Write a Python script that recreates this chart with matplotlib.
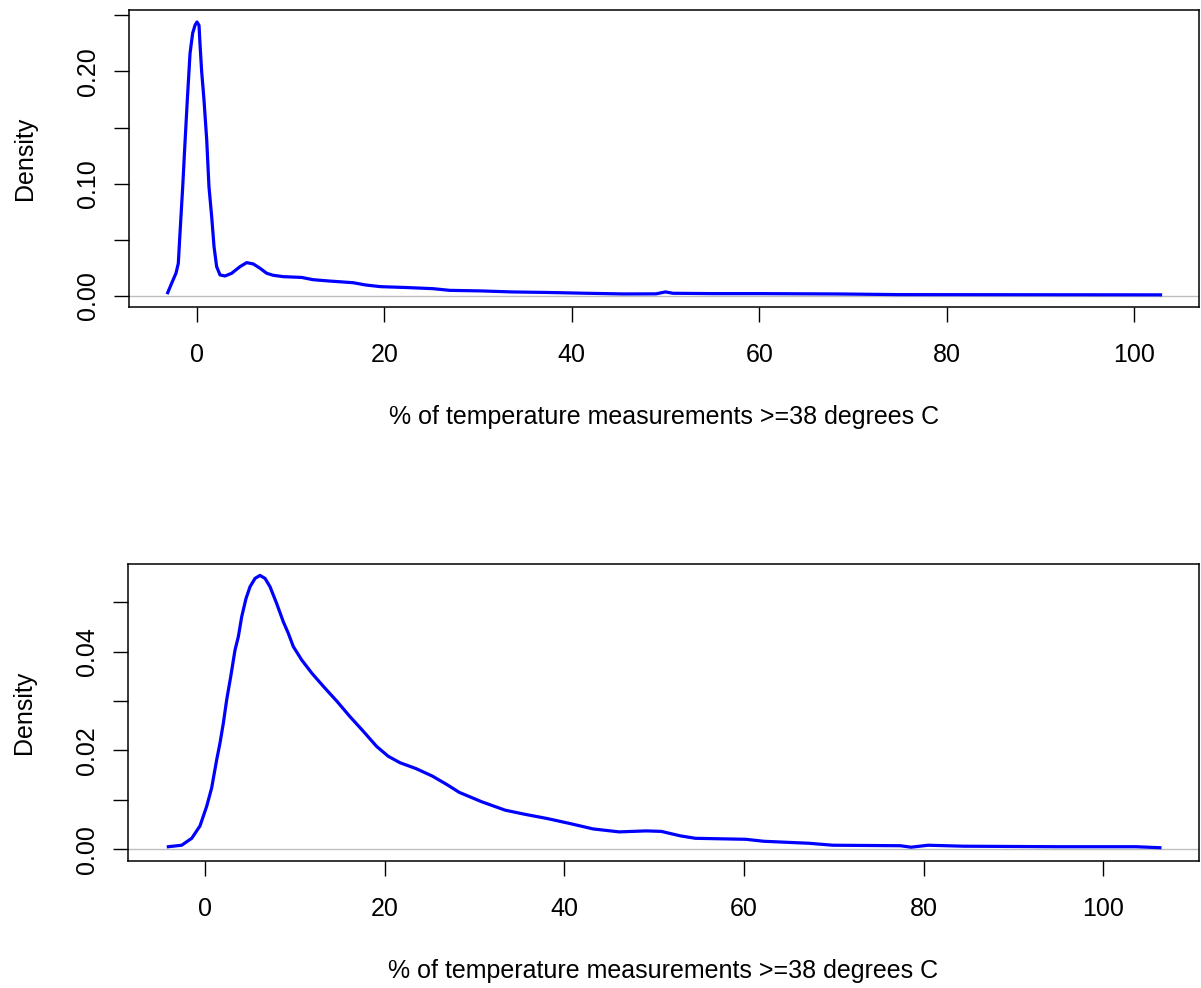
# density of % of temperature measurements >= 38 degrees C, two panels (R style plot)

import matplotlib
matplotlib.use("Agg")
import matplotlib.pyplot as plt

plt.rcParams['font.family'] = ['Liberation Sans', 'DejaVu Sans']

# top panel density curve
top_x = [-3.09, -2.67, -2.21, -1.96, -1.78, -1.49, -1.25, -1.00, -0.71, -0.43,
         -0.18, 0.03, 0.25, 0.35, 0.53, 0.78, 1.07, 1.31, 1.60, 1.85,
         2.13, 2.49, 3.02, 3.73, 4.62, 5.33, 6.04, 6.75, 7.47, 8.17,
         9.24, 11.2, 12.4, 14.0, 16.7, 18.0, 19.6, 22.4, 25.2, 27.0,
         30.3, 33.6, 37.6, 41.6, 45.5, 49.0, 50.0, 50.8, 55.0, 60.0,
         68.3, 75.0, 90.0, 102.8]
top_y = [0.0029, 0.0113, 0.0202, 0.0290, 0.0558, 0.0973, 0.1360, 0.1745, 0.2160, 0.2340,
         0.2410, 0.2440, 0.2410, 0.2250, 0.2000, 0.1745, 0.1390, 0.0973, 0.0706, 0.0439,
         0.0261, 0.0187, 0.0178, 0.0202, 0.0261, 0.0297, 0.0285, 0.0247, 0.0202, 0.0184,
         0.0172, 0.0165, 0.0145, 0.0134, 0.0118, 0.0098, 0.0083, 0.0075, 0.0065, 0.0050,
         0.0045, 0.0036, 0.0031, 0.0024, 0.0018, 0.0019, 0.0036, 0.0024, 0.0021, 0.0021,
         0.0018, 0.0012, 0.0011, 0.0010]

# bottom panel density curve
bottom_x = [-4.08, -2.6, -1.48, -0.56, 0.19, 0.74, 1.30, 1.67, 2.04, 2.41,
            2.86, 3.34, 3.71, 4.08, 4.56, 5.01, 5.57, 6.12, 6.68, 7.24,
            7.98, 8.72, 9.27, 9.83, 10.76, 11.9, 13.2, 14.7, 16.1, 17.6,
            19.1, 20.4, 21.7, 23.5, 25.3, 27.0, 28.3, 30.8, 33.4, 35.5,
            38.1, 40.6, 43.2, 46.1, 49.1, 50.8, 52.9, 54.6, 60.2, 62.2,
            67.2, 69.9, 77.4, 78.6, 80.5, 84.5, 95.0, 103.6, 106.3]
bottom_y = [0.0005, 0.0008, 0.0022, 0.0047, 0.0087, 0.0124, 0.0181, 0.0215, 0.0255, 0.0302,
            0.0349, 0.0403, 0.0430, 0.0470, 0.0507, 0.0531, 0.0548, 0.0554, 0.0548, 0.0531,
            0.0497, 0.0460, 0.0437, 0.0410, 0.0383, 0.0356, 0.0329, 0.0299, 0.0269, 0.0239,
            0.0208, 0.0188, 0.0175, 0.0163, 0.0148, 0.0130, 0.0115, 0.0096, 0.0079, 0.0071,
            0.0062, 0.0052, 0.0041, 0.0035, 0.0037, 0.0036, 0.0027, 0.0022, 0.0020, 0.0016,
            0.0012, 0.0008, 0.0007, 0.0004, 0.0008, 0.0006, 0.0005, 0.0005, 0.0003]

x_ticks = [0, 20, 40, 60, 80, 100]
top_yticks = [0.0, 0.05, 0.10, 0.15, 0.20, 0.25]
top_ylabels = ["0.00", "", "0.10", "", "0.20", ""]
bottom_yticks = [0.0, 0.01, 0.02, 0.03, 0.04, 0.05]
bottom_ylabels = ["0.00", "", "0.02", "", "0.04", ""]

xlabel = "% of temperature measurements >=38 degrees C"
FS = 18


def density_panel(ax, x, y, xlim, ylim, yticks, ylabels):
    # grey zero line like plot.density, then the curve
    ax.axhline(0, color="#BEBEBE", lw=1.0, zorder=1)
    ax.plot(x, y, color="#0000FF", lw=2.3, zorder=2)
    ax.set_xlim(xlim)
    ax.set_ylim(ylim)
    ax.set_xticks(x_ticks)
    ax.set_xticklabels([str(t) for t in x_ticks], fontsize=FS)
    ax.set_yticks(yticks)
    ax.set_yticklabels(ylabels, fontsize=FS, rotation=90, va="center")
    ax.tick_params(axis="x", length=11, width=1.0, pad=15)
    ax.tick_params(axis="y", length=11, width=1.0, pad=10)
    for s in ax.spines.values():
        s.set_linewidth(1.1)
    ax.set_xlabel(xlabel, fontsize=FS, labelpad=27)
    ax.set_ylabel("Density", fontsize=FS, labelpad=28)


fig = plt.figure(figsize=(12.01, 9.88), dpi=100)
ax1 = fig.add_axes([0.1074, 0.6893, 0.8909, 0.3006])
ax2 = fig.add_axes([0.1066, 0.1285, 0.8917, 0.3006])

density_panel(ax1, top_x, top_y, (-7.22, 106.9), (-0.0098, 0.2547), top_yticks, top_ylabels)
density_panel(ax2, bottom_x, bottom_y, (-8.57, 110.65), (-0.0024, 0.0577), bottom_yticks, bottom_ylabels)

fig.savefig("out.png", dpi=100)
